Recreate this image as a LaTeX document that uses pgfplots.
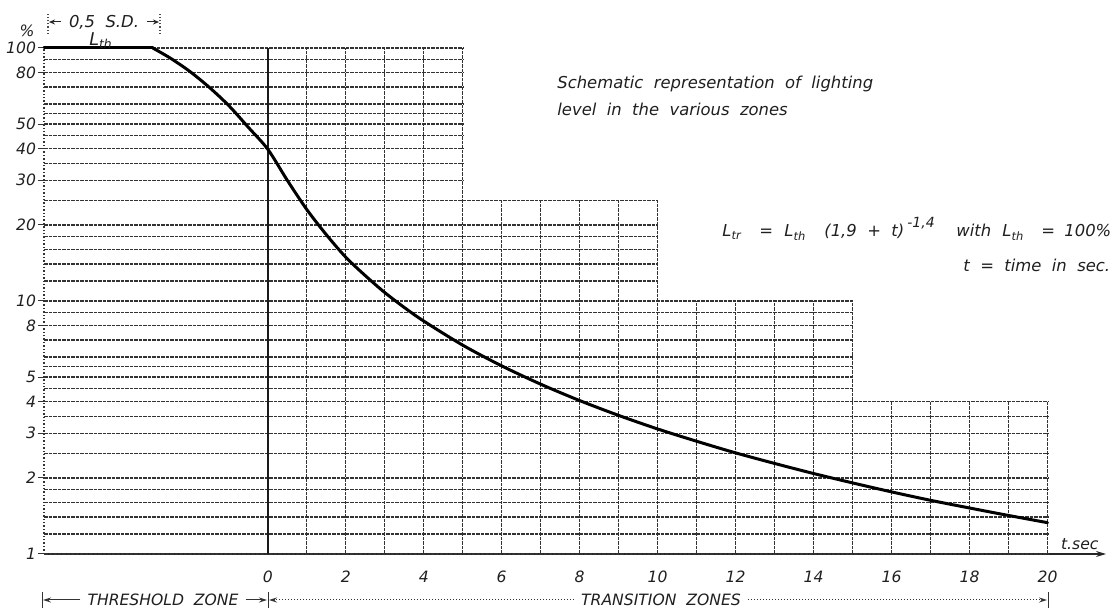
\documentclass[border=0pt]{standalone}
\usepackage{pgfplots}
\pgfplotsset{compat=1.18}
\usepackage{fontspec}
\setmainfont{DejaVu Sans}
\usetikzlibrary{arrows.meta}
\newcommand{\lbl}{\itshape\fontsize{7.8}{9}\selectfont}
\newcommand{\txt}{\itshape\fontsize{8.2}{10}\selectfont}
\newcommand{\sml}{\itshape\fontsize{7}{8}\selectfont}
\tikzset{gridln/.style={draw=black!80, line width=0.7pt, dash pattern=on 1.8pt off 0.45pt},
         ann/.style={font=\txt, text=black!88, inner sep=0pt}}
\begin{document}
\begin{tikzpicture}
\useasboundingbox (-22pt,-28pt) rectangle (538pt,277pt);
\begin{axis}[
  at={(0,0)}, anchor=south west,
  scale only axis, width=531pt, height=253pt,
  xmin=-5.74, xmax=21.5, ymin=1, ymax=100, ymode=log,
  axis x line=bottom, axis y line=left,
  x axis line style={-{Stealth[length=5pt,width=3pt]}, black!85, line width=0.6pt},
  y axis line style={-, black!80, line width=0.7pt, densely dotted},
  xtick={0,2,4,6,8,10,12,14,16,18,20},
  xticklabels={0,2,4,6,8,10,12,14,16,18,20},
  xtick style={draw=none},
  ytick={1,2,3,4,5,8,10,20,30,40,50,80,100},
  yticklabels={1,2,3,4,5,8,10,20,30,40,50,80,100},
  ytick style={black!80, line width=0.5pt},
  tick align=outside, major tick length=3pt,
  minor tick num=0,
  /pgf/number format/assume math mode=true,
  tick label style={font=\lbl, black!88},
  xticklabel style={yshift=-2pt},
  yticklabel style={xshift=2.5pt},
  clip=false,
]
% horizontal grid lines
\pgfplotsinvokeforeach{1.2,1.4,1.6,1.8,2,2.5,3,3.5,4}{
  \draw[gridln] (axis cs:-5.74,#1) -- (axis cs:20,#1);}
\pgfplotsinvokeforeach{4.5,5,5.5,6,7,8,9,10}{
  \draw[gridln] (axis cs:-5.74,#1) -- (axis cs:15,#1);}
\pgfplotsinvokeforeach{12,14,16,18,20,25}{
  \draw[gridln] (axis cs:-5.74,#1) -- (axis cs:10,#1);}
\pgfplotsinvokeforeach{30,35,40,45,50,55,60,70,80,90,100}{
  \draw[gridln] (axis cs:-5.74,#1) -- (axis cs:5,#1);}
\draw[gridln] (axis cs:-5.74,1) -- (axis cs:20,1);
% vertical grid lines
\pgfplotsinvokeforeach{1,2,3,4,5}{
  \draw[gridln] (axis cs:#1,1) -- (axis cs:#1,100);}
\pgfplotsinvokeforeach{6,7,8,9,10}{
  \draw[gridln] (axis cs:#1,1) -- (axis cs:#1,25);}
\pgfplotsinvokeforeach{11,12,13,14,15}{
  \draw[gridln] (axis cs:#1,1) -- (axis cs:#1,10);}
\pgfplotsinvokeforeach{16,17,18,19,20}{
  \draw[gridln] (axis cs:#1,1) -- (axis cs:#1,4);}
\draw[black!90, line width=0.75pt] (axis cs:0,1) -- (axis cs:0,100);
% lighting level: threshold plateau
\addplot[black, line width=1.5pt, line cap=round] coordinates {(-5.74,100) (-2.95,100)};
% lighting level: decreasing part
\addplot[black, line width=1.5pt, smooth, tension=0.5, line cap=round] coordinates {
  (-2.95,100) (-2.5,91.2) (-2,80.8) (-1.5,69.9) (-1,59.2) (-0.5,48.6)
  (0,39.8) (0.5,30.0) (1,23.0) (1.5,18.3) (2,14.9)
  (2.5,12.6) (3,10.8) (3.5,9.43) (4,8.33) (5,6.69) (6,5.54) (7,4.69)
  (8,4.04) (9,3.53) (10,3.12) (11,2.79) (12,2.51) (13,2.28) (14,2.08)
  (15,1.91) (16,1.76) (17,1.63) (18,1.52) (19,1.42) (20,1.33)
};
\end{axis}
% annotations (1pt = 2px of reference; origin at axis lower-left)
\node[font=\lbl, text=black!88] at (-8.5pt,261.5pt) {\%};
\draw[black!70, densely dotted, line width=0.6pt] (2pt,260pt) -- (2pt,270pt);
\draw[black!70, densely dotted, line width=0.6pt] (58pt,260pt) -- (58pt,270pt);
\draw[-{Stealth[length=3pt,width=2.5pt]}, black!85, line width=0.5pt] (8.5pt,266pt) -- (2.5pt,266pt);
\draw[-{Stealth[length=3pt,width=2.5pt]}, black!85, line width=0.5pt] (51.5pt,266pt) -- (57.5pt,266pt);
\node[font=\itshape\fontsize{8.2}{9}\selectfont, text=black!88] at (30pt,266pt) {0,5\ \ S.D.};
\node[font=\itshape\fontsize{8.8}{9}\selectfont, text=black!88] at (28.5pt,256.5pt) {L\textsubscript{th}};
% description text
\node[ann, anchor=base west] at (256.5pt,232.5pt) {Schematic\ \ representation\ \ of\ \ lighting};
\node[ann, anchor=base west] at (256.5pt,219pt) {level\ \ in\ \ the\ \ various\ \ zones};
% formula
\node[ann, anchor=base west] at (339pt,158.5pt) {L\textsubscript{tr}};
\node[ann, anchor=base west] at (357.5pt,158.5pt) {=};
\node[ann, anchor=base west] at (370pt,158.5pt) {L\textsubscript{th}};
\node[ann, anchor=base west] at (390pt,158.5pt) {(1,9\ \ +\ \ t)};
\node[font=\sml, text=black!88, inner sep=0pt, anchor=base west] at (431.5pt,163pt) {-1,4};
\node[ann, anchor=base west] at (456pt,158.5pt) {with};
\node[ann, anchor=base west] at (479pt,158.5pt) {L\textsubscript{th}};
\node[ann, anchor=base west] at (498.5pt,158.5pt) {=};
\node[ann, anchor=base west] at (510pt,158.5pt) {100\%};
\node[ann, anchor=base west] at (459.5pt,141pt) {t\ \ =\ \ time\ \ in\ \ sec.};
\node[font=\lbl, text=black!88, anchor=base west] at (505pt,2pt) {t.sec};
% zone markers
\draw[black!80, line width=0.5pt] (-1pt,-19pt) -- (-1pt,-27pt);
\draw[black!80, line width=0.5pt] (112pt,-19pt) -- (112pt,-27pt);
\draw[black!80, line width=0.5pt] (502pt,-19pt) -- (502pt,-27pt);
\node[font=\lbl, text=black!88] (thr) at (59.5pt,-23pt) {THRESHOLD\ \ ZONE};
\node[font=\lbl, text=black!88] (tra) at (308.5pt,-23pt) {TRANSITION\ \ ZONES};
\draw[-{Stealth[length=4pt,width=2.5pt]}, black!80, line width=0.5pt] (thr.west) -- (-0.5pt,-23pt);
\draw[-{Stealth[length=4pt,width=2.5pt]}, black!80, line width=0.5pt] (thr.east) -- (111.5pt,-23pt);
\draw[-{Stealth[length=4pt,width=2.5pt]}, black!80, line width=0.5pt, densely dotted] (tra.west) -- (112.5pt,-23pt);
\draw[-{Stealth[length=4pt,width=2.5pt]}, black!80, line width=0.5pt, densely dotted] (tra.east) -- (501.5pt,-23pt);
\end{tikzpicture}
\end{document}
